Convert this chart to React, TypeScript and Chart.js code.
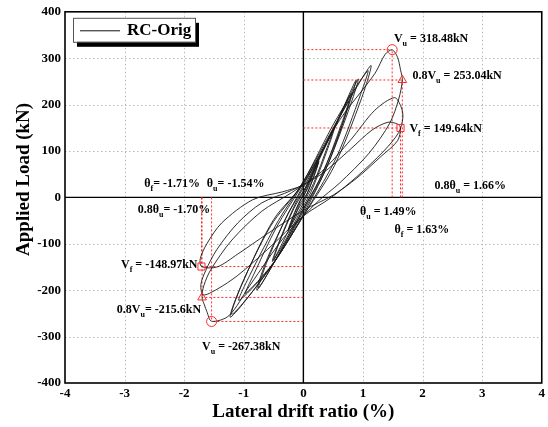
import React, { useEffect, useRef } from "react";
import { Chart, registerables } from "chart.js";

Chart.register(...registerables);

// Hysteresis history: drift ratio (%) and applied load (kN)
const hystDrift: number[] = [
  // cycle 1
  0, 0.12, 0.25, 0.18, 0.06, -0.06, -0.14, -0.25, -0.17, -0.05, 0.06, 0.15, 0.26, 0.17, 0.04, -0.1, -0.26, -0.15, -0.02,
  // cycle 2
  0.1, 0.3, 0.5, 0.4, 0.17, 0.0, -0.25, -0.5, -0.4, -0.16, 0.0, 0.25, 0.52, 0.4, 0.13, -0.05, -0.3, -0.52, -0.39, -0.12,
  // cycle 3
  0.05, 0.4, 0.76, 0.63, 0.32, 0.05, -0.35, -0.75, -0.62, -0.3, -0.05, 0.35, 0.8, 0.62, 0.26, 0.0, -0.4, -0.78, -0.6, -0.25,
  // cycle 4
  0.05, 0.5, 0.88, 0.76, 0.42, 0.06, -0.45, -0.97, -0.84, -0.45, -0.05, 0.45, 0.92, 0.76, 0.36, 0.0, -0.5, -1.08, -0.9, -0.42,
  // cycle 5
  0.0, 0.55, 1.08, 0.96, 0.56, 0.1, -0.55, -1.22, -1.05, -0.55, -0.05, 0.6, 1.13, 0.98, 0.52, 0.05, -0.6, -1.2, -1.0, -0.5,
  // cycle 6
  0.0, 0.6, 1.2, 1.37, 1.49, 1.58, 1.63, 1.66, 1.6, 1.45, 1.1, 0.6, 0.25, -0.3, -0.9, -1.25, -1.54, -1.62, -1.66, -1.7, -1.67, -1.55, -1.2, -0.7, -0.2,
  // cycle 7
  0.3, 0.8, 1.2, 1.53, 1.64, 1.67, 1.6, 1.35, 0.9, 0.47, 0.0, -0.6, -1.1, -1.45, -1.68, -1.72, -1.64, -1.45, -1.1, -0.7, -0.2, 0.3,
  // cycle 8
  0.8, 1.15, 1.42, 1.58, 1.63, 1.58, 1.3, 0.9, 0.5, 0.0, -0.6, -1.1, -1.45, -1.71, -1.73, -1.62, -1.37, -0.85, -0.35, 0.0,
];
const hystLoad: number[] = [
  // cycle 1
  0, 38, 75, 48, 8, -14, -40, -70, -42, -6, 16, 45, 78, 42, 2, -28, -72, -33, 2,
  // cycle 2
  35, 95, 145, 108, 30, -12, -72, -135, -96, -24, 12, 82, 150, 102, 12, -30, -92, -138, -90, -10,
  // cycle 3
  24, 118, 208, 155, 50, -14, -108, -195, -142, -46, 14, 108, 224, 145, 36, -24, -120, -200, -130, -34,
  // cycle 4
  32, 145, 252, 198, 74, -22, -132, -207, -168, -64, 20, 132, 255, 188, 56, -30, -142, -222, -168, -50,
  // cycle 5
  34, 168, 273, 222, 88, -18, -150, -258, -192, -62, 24, 172, 284, 215, 68, -30, -160, -252, -178, -48,
  // cycle 6
  30, 165, 267, 308, 318, 302, 275, 253, 212, 160, 95, 30, -8, -82, -190, -255, -267, -246, -232, -216, -190, -155, -92, -30, 10,
  // cycle 7
  55, 125, 188, 215, 195, 172, 140, 100, 45, 0, -40, -112, -168, -198, -210, -188, -158, -112, -55, -12, 15, 50,
  // cycle 8
  105, 145, 162, 158, 150, 122, 88, 42, 5, -28, -78, -122, -150, -149, -132, -100, -55, -5, 12, 25,
];

// Characteristic points
const keyDrift: number[] = [1.49, 1.66, 1.63, -1.54, -1.7, -1.71];
const keyLoad: number[] = [318.48, 253.04, 149.64, -267.38, -215.6, -148.97];
const keyShape: string[] = ["circle", "triangle", "rect", "circle", "triangle", "rect"];

// Annotation texts ({..} = subscript) and their anchor in data units
const labelTexts: string[] = [
  "V{u} = 318.48kN",
  "0.8V{u} = 253.04kN",
  "V{f} = 149.64kN",
  "0.8θ{u} = 1.66%",
  "θ{u} = 1.49%",
  "θ{f} = 1.63%",
  "θ{f}= -1.71%",
  "θ{u}= -1.54%",
  "0.8θ{u}= -1.70%",
  "V{f} = -148.97kN",
  "0.8V{u}= -215.6kN",
  "V{u} = -267.38kN",
];
const labelX: number[] = [1.52, 1.83, 1.78, 2.2, 0.95, 1.53, -2.67, -1.62, -2.78, -3.06, -3.13, -1.7];
const labelY: number[] = [342, 262, 148, 24, -32, -71, 30, 30, -28, -146, -243, -323];

const xMin = -4, xMax = 4, xStep = 1;
const yMin = -400, yMax = 400, yStep = 100;

const legendLabel = "RC-Orig";
const xTitle = "Lateral drift ratio (%)";
const yTitle = "Applied Load (kN)";

const FONT = '"Liberation Serif", "Times New Roman", serif';
const RED = "#ff2a2a";

function drawRich(ctx: CanvasRenderingContext2D, text: string, x: number, y: number, size: number) {
  const parts: { t: string; sub: boolean }[] = [];
  const re = /\{([^}]*)\}|([^{]+)/g;
  let m: RegExpExecArray | null;
  while ((m = re.exec(text))) {
    if (m[1] !== undefined) parts.push({ t: m[1], sub: true });
    else parts.push({ t: m[2], sub: false });
  }
  let cx = x;
  ctx.textBaseline = "middle";
  ctx.textAlign = "left";
  for (const p of parts) {
    if (p.sub) {
      ctx.font = `bold ${Math.round(size * 0.7)}px ${FONT}`;
      ctx.fillText(p.t, cx, y + size * 0.42);
    } else {
      ctx.font = `bold ${size}px ${FONT}`;
      ctx.fillText(p.t, cx, y);
    }
    cx += ctx.measureText(p.t).width;
  }
}

const overlayPlugin = {
  id: "overlay",
  beforeDatasetsDraw(chart: any) {
    const { ctx, chartArea: a, scales } = chart;
    ctx.save();
    // dotted grid
    ctx.strokeStyle = "#b8b8b8";
    ctx.lineWidth = 1;
    ctx.setLineDash([1.5, 2.5]);
    ctx.beginPath();
    for (let v = xMin + xStep; v < xMax; v += xStep) {
      if (v === 0) continue;
      const px = Math.round(scales.x.getPixelForValue(v)) + 0.5;
      ctx.moveTo(px, a.top);
      ctx.lineTo(px, a.bottom);
    }
    for (let v = yMin + yStep; v < yMax; v += yStep) {
      if (v === 0) continue;
      const py = Math.round(scales.y.getPixelForValue(v)) + 0.5;
      ctx.moveTo(a.left, py);
      ctx.lineTo(a.right, py);
    }
    ctx.stroke();
    ctx.setLineDash([]);
    // zero axes
    const x0 = scales.x.getPixelForValue(0);
    const y0 = scales.y.getPixelForValue(0);
    ctx.strokeStyle = "#000";
    ctx.lineWidth = 1.4;
    ctx.beginPath();
    ctx.moveTo(x0, a.top);
    ctx.lineTo(x0, a.bottom);
    ctx.moveTo(a.left, y0);
    ctx.lineTo(a.right, y0);
    ctx.stroke();
    ctx.restore();
  },
  afterDraw(chart: any) {
    const { ctx, chartArea: a, scales } = chart;
    ctx.save();
    // frame
    ctx.strokeStyle = "#000";
    ctx.lineWidth = 1.6;
    ctx.strokeRect(a.left, a.top, a.right - a.left, a.bottom - a.top);

    // legend with shadow
    const lx = a.left + 8, ly = a.top + 6, lw = 122, lh = 24;
    ctx.fillStyle = "#000";
    ctx.fillRect(lx + 4, ly + 5, lw, lh);
    ctx.fillStyle = "#fff";
    ctx.fillRect(lx, ly, lw, lh);
    ctx.strokeStyle = "#555";
    ctx.lineWidth = 1;
    ctx.strokeRect(lx + 0.5, ly + 0.5, lw, lh);
    ctx.strokeStyle = "#111";
    ctx.lineWidth = 1;
    ctx.beginPath();
    ctx.moveTo(lx + 7, ly + lh / 2 + 1);
    ctx.lineTo(lx + 47, ly + lh / 2 + 1);
    ctx.stroke();
    ctx.fillStyle = "#000";
    ctx.font = `bold 17px ${FONT}`;
    ctx.textBaseline = "middle";
    ctx.textAlign = "left";
    ctx.fillText(legendLabel, lx + 54, ly + lh / 2 + 1);

    // annotations
    ctx.fillStyle = "#000";
    for (let i = 0; i < labelTexts.length; i++) {
      const px = scales.x.getPixelForValue(labelX[i]);
      const py = scales.y.getPixelForValue(labelY[i]);
      drawRich(ctx, labelTexts[i], px, py, 12);
    }

    // axis titles
    ctx.font = `bold 19px ${FONT}`;
    ctx.textAlign = "center";
    ctx.textBaseline = "middle";
    ctx.fillText(xTitle, (a.left + a.right) / 2, a.bottom + 29);
    ctx.save();
    ctx.translate(24, (a.top + a.bottom) / 2 - 18);
    ctx.rotate(-Math.PI / 2);
    ctx.fillText(yTitle, 0, 0);
    ctx.restore();
    ctx.restore();
  },
};

export default function App() {
  const canvasRef = useRef<HTMLCanvasElement | null>(null);

  useEffect(() => {
    const canvas = canvasRef.current;
    if (!canvas) return;

    const hystData = hystDrift.map((d, i) => ({ x: d, y: hystLoad[i] }));
    const refLines: any[] = [];
    keyDrift.forEach((d, i) => {
      refLines.push({
        data: [{ x: 0, y: keyLoad[i] }, { x: d, y: keyLoad[i] }],
        showLine: true,
        borderColor: RED,
        borderWidth: 1,
        borderDash: [2, 2],
        pointRadius: 0,
        order: 3,
      });
      refLines.push({
        data: [{ x: d, y: 0 }, { x: d, y: keyLoad[i] }],
        showLine: true,
        borderColor: RED,
        borderWidth: 1,
        borderDash: [2, 2],
        pointRadius: 0,
        order: 3,
      });
    });

    const chart = new Chart(canvas, {
      type: "scatter",
      data: {
        datasets: [
          ...refLines,
          {
            data: hystData,
            showLine: true,
            borderColor: "#1a1a1a",
            borderWidth: 0.9,
            pointRadius: 0,
            tension: 0.3,
            order: 2,
          },
          {
            data: keyDrift.map((d, i) => ({ x: d, y: keyLoad[i] })),
            showLine: false,
            pointStyle: keyShape as any,
            pointRadius: 5,
            pointBorderColor: RED,
            pointBackgroundColor: "rgba(255,255,255,0)",
            pointBorderWidth: 1,
            order: 1,
          },
        ],
      },
      options: {
        responsive: false,
        animation: false,
        events: [],
        layout: { padding: { top: 11, right: 3, left: 0, bottom: 0 } },
        plugins: { legend: { display: false }, tooltip: { enabled: false } },
        scales: {
          x: {
            type: "linear",
            min: xMin,
            max: xMax,
            ticks: {
              stepSize: xStep,
              color: "#000",
              font: { family: FONT, size: 13, weight: "bold" },
              padding: 3,
            },
            grid: { display: false, drawTicks: false },
            border: { display: false },
            afterFit: (s: any) => {
              s.height = 44;
            },
          },
          y: {
            type: "linear",
            min: yMin,
            max: yMax,
            ticks: {
              stepSize: yStep,
              color: "#000",
              font: { family: FONT, size: 13, weight: "bold" },
              padding: 4,
            },
            grid: { display: false, drawTicks: false },
            border: { display: false },
            afterFit: (s: any) => {
              s.width = 65;
            },
          },
        },
      },
      plugins: [overlayPlugin],
    });

    return () => chart.destroy();
  }, []);

  return (
    <div style={{ position: "absolute", left: 0, top: 0, width: 548, height: 427, background: "#fff" }}>
      <canvas ref={canvasRef} width={548} height={427} />
    </div>
  );
}
